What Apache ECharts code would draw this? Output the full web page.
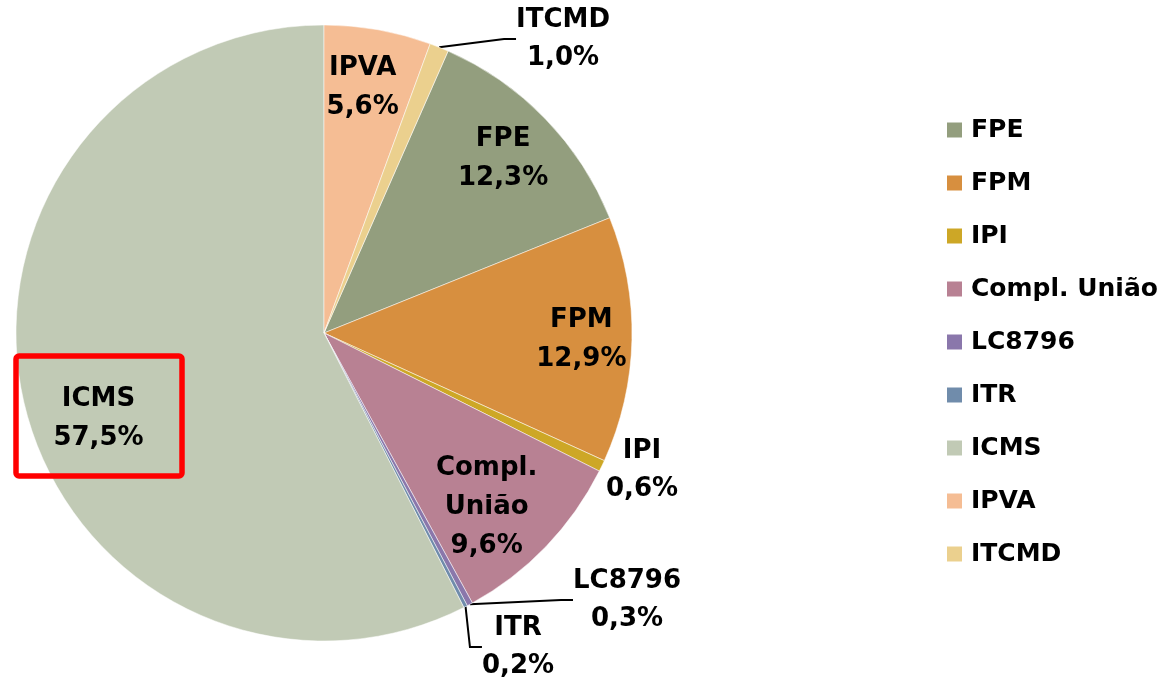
<!DOCTYPE html>
<html>
<head>
<meta charset="utf-8">
<script src="https://cdn.jsdelivr.net/npm/echarts@6/dist/echarts.min.js"></script>
<style>html,body{margin:0;padding:0;background:#fff}#chart{width:1166px;height:680px}</style>
</head>
<body>
<div id="chart"></div>
<script>
// dados do gráfico
const names = ['FPE', 'FPM', 'IPI', 'Compl. União', 'LC8796', 'ITR', 'ICMS', 'IPVA', 'ITCMD'];
const values = [12.3, 12.9, 0.6, 9.6, 0.3, 0.2, 57.5, 5.6, 1.0];
const colors = ['#939e7e', '#d78f3f', '#cda726', '#b88193', '#8a77ab', '#708cab', '#c1cab5', '#f5bd94', '#ebd08e'];
const smallOnes = ['IPI', 'LC8796', 'ITR', 'ITCMD'];

const chart = echarts.init(document.getElementById('chart'));

const font = {fontFamily: 'DejaVu Sans', fontWeight: 'bold', fontSize: 26, color: '#000'};
const pct = v => v.toFixed(1).replace('.', ',') + '%';

const cx = 324, cy = 333, R = 308;
// posição dos rótulos externos (centro do texto)
const outsidePos = {ITCMD: [563, 39], IPI: [642, 470], LC8796: [627, 600], ITR: [518, 647]};
const insideOffset = {ICMS: [17, 28], FPM: [8, 1], 'Compl. União': [-17, 1], IPVA: [-5, 0], FPE: [0, -1]};

const mainData = names.map((n, i) => {
    const small = smallOnes.indexOf(n) >= 0;
    return {
        name: n, value: values[i],
        itemStyle: {color: colors[i]},
        label: {show: small},
        labelLine: {show: small && n !== 'IPI'}
    };
});
const labelData = names.map((n, i) => ({
    name: n, value: values[i],
    label: {show: smallOnes.indexOf(n) < 0, offset: insideOffset[n] || [0, 0]}
}));

const option = {
    animation: false,
    legend: {
        orient: 'vertical', left: 940, top: 112,
        icon: 'rect', itemWidth: 17, itemHeight: 17, itemGap: 27,
        selectedMode: false,
        data: names,
        textStyle: Object.assign({}, font, {fontSize: 25, lineHeight: 26, padding: [0, 0, 0, 3]})
    },
    graphic: [{
        type: 'rect', z: 100,
        shape: {x: 16, y: 356, width: 166, height: 120, r: 3},
        style: {fill: 'none', stroke: '#ff0000', lineWidth: 5.5}
    }],
    series: [{
        name: 'main', type: 'pie',
        center: [cx, cy], radius: [0, R],
        startAngle: 90 - 3.6 * (5.6 + 1.0), clockwise: true,
        avoidLabelOverlap: false,
        itemStyle: {borderColor: '#ffffff', borderWidth: 0.5},
        emphasis: {disabled: true},
        label: Object.assign({
            position: 'outside', lineHeight: 38, align: 'center',
            formatter: p => p.name + '\n' + pct(p.value)
        }, font),
        labelLine: {length: 12, length2: 12, lineStyle: {color: '#000', width: 2}},
        labelLayout: function (p) {
            const pos = outsidePos[names[p.dataIndex]];
            if (!pos) return;
            return {x: pos[0], y: pos[1], align: 'center', verticalAlign: 'middle'};
        },
        data: mainData
    }, {
        name: 'labels', type: 'pie', silent: true,
        center: [cx, cy], radius: [R * 0.6, R],
        startAngle: 90 - 3.6 * (5.6 + 1.0), clockwise: true,
        avoidLabelOverlap: false,
        itemStyle: {color: 'transparent'},
        emphasis: {disabled: true},
        label: Object.assign({
            position: 'inside', lineHeight: 39, align: 'center',
            formatter: p => p.name.replace('. ', '.\n') + '\n' + pct(p.value)
        }, font),
        labelLine: {show: false},
        data: labelData
    }]
};
chart.setOption(option);
</script>
</body>
</html>
